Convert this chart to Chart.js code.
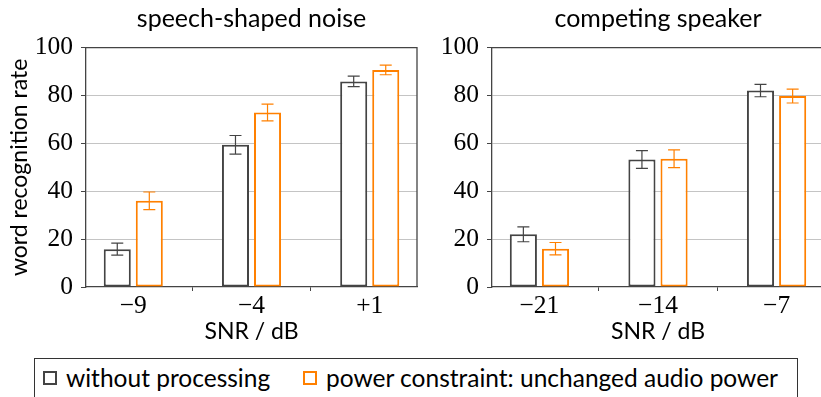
<!DOCTYPE html>
<html>
<head>
<meta charset="utf-8">
<script src="https://cdn.jsdelivr.net/npm/chart.js@4/dist/chart.umd.min.js"></script>
<style>
  html, body { margin: 0; padding: 0; background: #fff; overflow: hidden; width: 821px; height: 397px; }
  #left { position: absolute; left: 0; top: 0; }
  #right { position: absolute; left: 420px; top: 0; }
  .legend {
    position: absolute; left: 34px; top: 358px; width: 764px; height: 50px;
    border: 1px solid #333; box-sizing: border-box;
    font-family: Lato, sans-serif; font-size: 24.5px; color: #000;
  }
  .item { position: absolute; top: 4px; white-space: nowrap; }
  .box { display: inline-block; width: 10px; height: 10px; border: 2px solid; margin-right: 9px; vertical-align: 2px; }
</style>
</head>
<body>
<canvas id="left" width="420" height="350"></canvas>
<canvas id="right" width="404" height="350"></canvas>
<div class="legend">
  <span class="item" style="left:8px"><span class="box" style="border-color:#444"></span>without processing</span>
  <span class="item" style="left:268px"><span class="box" style="border-color:#ff8000"></span>power constraint: unchanged audio power</span>
</div>
<script>
// tick labels / categories
const noiseSnr = ['\u22129', '\u22124', '+1'];
const speakerSnr = ['\u221221', '\u221214', '\u22127'];
const yTicks = [0, 20, 40, 60, 80, 100];

// word recognition rate, speech-shaped noise
const noiseWithout = [15.8, 59.4, 85.9];
const noiseWithoutErr = [2.5, 3.9, 2.2];
const noisePower = [36.0, 72.9, 90.7];
const noisePowerErr = [3.7, 3.5, 2.0];

// word recognition rate, competing speaker
const speakerWithout = [22.0, 53.3, 82.1];
const speakerWithoutErr = [3.1, 3.7, 2.6];
const speakerPower = [16.0, 53.6, 79.8];
const speakerPowerErr = [2.6, 3.7, 2.9];

const GRAY = '#444444';
const ORANGE = '#ff8000';

Chart.defaults.font.family = 'Lato';
Chart.defaults.color = '#000';

// error bars drawn on top of the bars
const errorBars = {
    id: 'errorBars',
    afterDatasetsDraw(chart) {
        const ctx = chart.ctx;
        const y = chart.scales.y;
        chart.data.datasets.forEach((ds, di) => {
            const meta = chart.getDatasetMeta(di);
            meta.data.forEach((bar, i) => {
                const v = ds.data[i].y;
                const e = ds.errors[i];
                const top = y.getPixelForValue(v + e);
                const bot = y.getPixelForValue(v - e);
                ctx.save();
                ctx.strokeStyle = ds.borderColor;
                ctx.lineWidth = 1.2;
                ctx.beginPath();
                ctx.moveTo(bar.x, top); ctx.lineTo(bar.x, bot);
                ctx.moveTo(bar.x - 6, top); ctx.lineTo(bar.x + 6, top);
                ctx.moveTo(bar.x - 6, bot); ctx.lineTo(bar.x + 6, bot);
                ctx.stroke();
                ctx.restore();
            });
        });
    }
};

// top and right edge of the plot frame
const frame = {
    id: 'frame',
    beforeDatasetsDraw(chart) {
        const { ctx, chartArea: a } = chart;
        ctx.save();
        ctx.strokeStyle = GRAY;
        ctx.lineWidth = 1.3;
        ctx.beginPath();
        ctx.moveTo(a.left, a.top); ctx.lineTo(a.right, a.top); ctx.lineTo(a.right, a.bottom);
        ctx.stroke();
        ctx.restore();
    }
};

function points(values) {
    return values.map((v, i) => ({ x: i, y: v }));
}

function makeChart(id, title, labels, without, withoutErr, power, powerErr, yWidth, showYTitle, padRight) {
    return new Chart(document.getElementById(id), {
        type: 'bar',
        data: {
            datasets: [{
                label: 'without processing',
                data: points(without),
                errors: withoutErr,
                backgroundColor: '#ffffff',
                borderColor: GRAY,
                borderWidth: 2,
                borderSkipped: false
            }, {
                label: 'power constraint: unchanged audio power',
                data: points(power),
                errors: powerErr,
                backgroundColor: '#ffffff',
                borderColor: ORANGE,
                borderWidth: 2,
                borderSkipped: false
            }]
        },
        options: {
            responsive: false,
            animation: false,
            categoryPercentage: 0.542,
            barPercentage: 0.844,
            layout: { padding: { right: padRight } },
            plugins: {
                legend: { display: false },
                tooltip: { enabled: false },
                title: {
                    display: true,
                    fullSize: false,
                    text: title,
                    font: { family: 'Lato', size: 25, weight: 'normal' },
                    padding: { top: 4, bottom: 13.7 }
                }
            },
            scales: {
                x: {
                    type: 'linear',
                    offset: false,
                    min: -0.4,
                    max: 2.4,
                    afterBuildTicks: s => { s.ticks = labels.map((l, i) => ({ value: i })); },
                    afterFit: s => { s.height = 63; },
                    ticks: {
                        callback: v => labels[v],
                        font: { family: 'Liberation Serif', size: 25.5 },
                        padding: 0,
                        maxRotation: 0
                    },
                    grid: { drawOnChartArea: false, drawTicks: true, tickLength: 4, color: GRAY },
                    border: { color: GRAY, width: 1.3 },
                    title: {
                        display: true,
                        text: 'SNR / dB',
                        font: { family: 'Lato', size: 23 },
                        padding: { top: 0, bottom: 5 }
                    }
                },
                y: {
                    min: 0,
                    max: 100,
                    afterBuildTicks: s => { s.ticks = yTicks.map(v => ({ value: v })); },
                    afterFit: s => { s.width = yWidth; },
                    ticks: {
                        font: { family: 'Liberation Serif', size: 25.5 },
                        padding: 8
                    },
                    grid: {
                        color: ctx => (ctx.tick && (ctx.tick.value === 0 || ctx.tick.value === 100)) ? 'rgba(0,0,0,0)' : '#c4c4c4',
                        tickColor: GRAY,
                        tickLength: 5,
                        lineWidth: 1
                    },
                    border: { color: GRAY, width: 1.3 },
                    title: {
                        display: showYTitle,
                        text: 'word recognition rate',
                        font: { family: 'Lato', size: 23 },
                        padding: { top: 6, bottom: 0 }
                    }
                }
            }
        },
        plugins: [frame, errorBars]
    });
}

makeChart('left', 'speech-shaped noise', noiseSnr, noiseWithout, noiseWithoutErr, noisePower, noisePowerErr, 86, true, 3);
makeChart('right', 'competing speaker', speakerSnr, speakerWithout, speakerWithoutErr, speakerPower, speakerPowerErr, 72, false, 0);
</script>
</body>
</html>
